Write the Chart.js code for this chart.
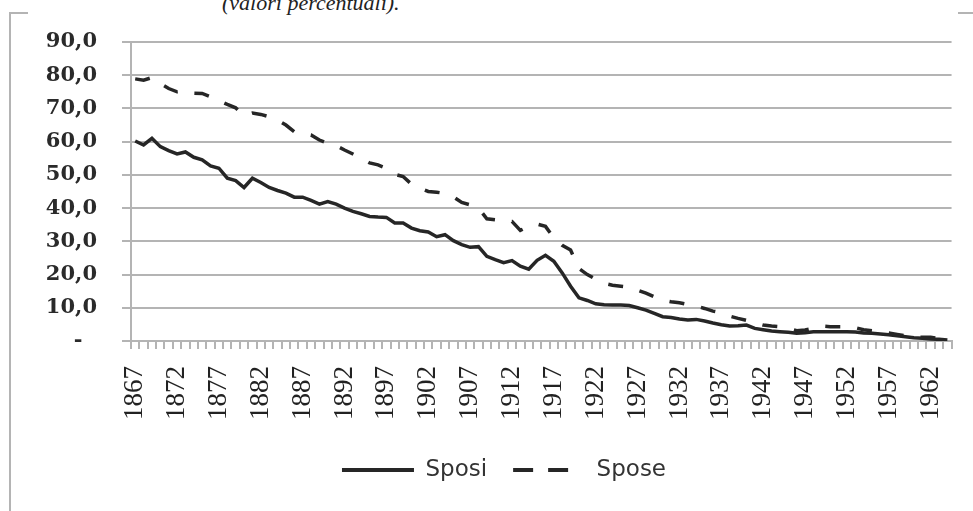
<!DOCTYPE html>
<html>
<head>
<meta charset="utf-8">
<script src="https://cdn.jsdelivr.net/npm/chart.js@4"></script>
<style>
  html, body { margin: 0; padding: 0; background: #fff; overflow: hidden; }
  body { width: 973px; height: 511px; position: relative; }
  #frame {
    position: absolute; left: 9px; top: 12px;
    border-left: 2px solid #b4b4b4; border-top: 2px solid #b4b4b4;
    width: 990px; height: 510px;
  }
  #gap { position: absolute; left: 28px; top: 10px; width: 930px; height: 6px; background: #fff; }
  #caption {
    position: absolute; left: 222px; top: -8px;
    font: italic 22px "Liberation Serif", serif; line-height: 22px; color: #222;
    white-space: nowrap;
  }
  #marriageChart { position: absolute; left: 11px; top: 14px; }
</style>
</head>
<body>
<div id="frame"></div>
<div id="gap"></div>
<div id="caption">(valori percentuali).</div>
<canvas id="marriageChart" width="986" height="497"></canvas>
<script>
// Years covered by the series (one point per year)
const firstYear = 1867;
const lastYear = 1964;
const years = [];
for (let y = firstYear; y <= lastYear; y++) years.push(String(y));

// Share of grooms (Sposi), percent, 1867-1964
const sposi = [
  60.2, 59.0, 61.0, 58.5, 57.3, 56.3, 56.9, 55.3, 54.5, 52.7,
  52.0, 49.0, 48.3, 46.2, 49.0, 47.7, 46.2, 45.3, 44.5, 43.3,
  43.3, 42.3, 41.2, 42.0, 41.2, 40.0, 39.0, 38.3, 37.5, 37.3,
  37.2, 35.5, 35.5, 34.0, 33.2, 32.8, 31.4, 32.0, 30.2, 29.0,
  28.2, 28.4, 25.5, 24.5, 23.6, 24.2, 22.5, 21.6, 24.3, 25.8,
  24.0, 20.5, 16.5, 13.0, 12.2, 11.2, 10.9, 10.8, 10.8, 10.7,
  10.0, 9.3, 8.3, 7.3, 7.1, 6.6, 6.3, 6.5, 6.0, 5.4,
  4.9, 4.5, 4.6, 4.8, 3.8, 3.4, 3.0, 2.8, 2.6, 2.3,
  2.5, 2.8, 2.8, 2.8, 2.8, 2.8, 2.7, 2.4, 2.3, 2.1,
  1.9, 1.6, 1.3, 1.0, 0.8, 0.6, 0.5, 0.3
];

// Share of brides (Spose), percent, 1867-1964
const spose = [
  78.9, 78.5, 79.3, 77.5, 76.0, 75.0, 75.3, 74.6, 74.5, 73.5,
  72.3, 71.2, 70.2, 67.8, 68.6, 68.2, 67.5, 66.5, 65.0, 63.0,
  62.4, 62.0, 60.5, 59.5, 58.8, 57.5, 56.3, 55.0, 53.6, 53.0,
  52.0, 50.2, 49.5, 47.2, 46.0, 45.0, 44.8, 44.4, 43.4, 41.7,
  41.0, 40.0, 36.8, 36.5, 36.0, 36.0, 33.3, 34.5, 35.2, 34.5,
  31.0, 28.8, 27.4, 21.8, 20.0, 18.6, 17.4, 16.8, 16.5, 16.2,
  15.3, 14.4, 13.3, 12.3, 11.8, 11.5, 11.0, 10.5, 9.8, 9.0,
  8.5, 7.5, 6.8, 6.2, 5.5, 4.8, 4.5, 4.3, 3.8, 3.1,
  3.3, 3.8, 4.5, 4.3, 4.3, 4.3, 4.0, 3.4, 3.1, 2.9,
  2.4, 2.0, 1.6, 1.2, 1.1, 1.1, 0.8, 0.5
];

const lineColor = '#262626';
const gridColor = '#b4b4b4';

const ctx = document.getElementById('marriageChart').getContext('2d');

new Chart(ctx, {
  type: 'line',
  data: {
    labels: years,
    datasets: [
      {
        label: 'Sposi',
        data: sposi,
        borderColor: lineColor,
        borderWidth: 3.5,
        pointRadius: 0,
        tension: 0
      },
      {
        label: 'Spose',
        data: spose,
        borderColor: lineColor,
        borderWidth: 3.5,
        borderDash: [15, 17],
        pointRadius: 0,
        tension: 0
      }
    ]
  },
  options: {
    responsive: false,
    animation: false,
    layout: { padding: { left: 0, top: 28, right: 0, bottom: 19.5 } },
    plugins: {
      tooltip: { enabled: false },
      legend: {
        position: 'bottom',
        labels: {
          usePointStyle: true,
          pointStyle: 'line',
          pointStyleWidth: 72,
          padding: 26,
          color: '#333',
          font: { family: 'DejaVu Sans', size: 23 },
          generateLabels: (chart) => {
            const items = Chart.defaults.plugins.legend.labels.generateLabels(chart);
            items.forEach(item => {
              item.lineWidth = 4;
              // two dashes only in the key sample
              item.lineDash = item.text === 'Spose' ? [20, 15, 20, 100] : [];
            });
            return items;
          }
        }
      }
    },
    scales: {
      x: {
        offset: true,
        afterFit: (scale) => { scale.height = 91.5; },
        grid: {
          drawOnChartArea: false,
          drawTicks: true,
          tickLength: 8,
          offset: true,
          color: gridColor,
          lineWidth: 2
        },
        border: { color: gridColor, width: 2 },
        ticks: {
          autoSkip: false,
          minRotation: 90,
          maxRotation: 90,
          padding: 17,
          color: '#222',
          font: { family: 'Liberation Serif', size: 27 },
          callback: (value, index) => index % 5 === 0 ? years[index] : ''
        }
      },
      y: {
        min: 0,
        max: 90,
        afterFit: (scale) => {
          scale.width = 120;
          // the wide label gap should not push the plot down
          scale.paddingTop = 10;
          scale.paddingBottom = 10;
        },
        grid: {
          color: gridColor,
          lineWidth: 2,
          tickLength: 9
        },
        border: { color: gridColor, width: 2 },
        ticks: {
          stepSize: 10,
          padding: 25,
          color: '#2a2a2a',
          font: { family: 'DejaVu Serif', size: 21, weight: 'bold' },
          callback: (v) => v === 0 ? '-  ' : v.toFixed(1).replace('.', ',')
        }
      },
      // empty right-hand margin so the plot stops short of the frame
      margin: {
        position: 'right',
        display: true,
        afterFit: (scale) => { scale.width = 45; },
        grid: { display: false },
        border: { display: false },
        ticks: { display: false }
      }
    }
  }
});
</script>
</body>
</html>
